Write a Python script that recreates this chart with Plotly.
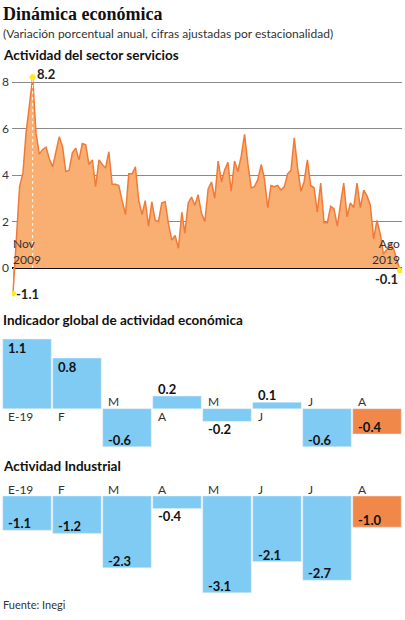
import plotly.graph_objects as go
import pandas as pd

# ---------------- data ----------------
servicios = [
    -1.1, 1.3, 3.5, 4.1, 5.8, 7.0, 8.2, 5.8, 4.9, 5.1,
    5.2, 4.7, 4.35, 5.0, 5.65, 5.2, 4.15, 4.2, 4.95, 5.15,
    4.65, 5.35, 5.3, 4.45, 4.65, 3.5, 4.65, 4.45, 4.3, 5.0,
    3.6, 3.6, 3.55, 2.9, 2.3, 4.05, 4.05, 4.35, 2.9, 2.3,
    2.9, 1.8, 2.85, 2.05, 2.0, 2.8, 2.85, 1.9, 1.2, 1.4,
    0.85, 2.4, 1.5, 2.8, 3.05, 2.7, 3.15, 2.35, 2.0, 3.4,
    3.7, 3.0, 4.6, 3.7, 4.2, 4.55, 3.3, 4.6, 4.15, 4.8,
    5.75, 4.5, 3.45, 3.5, 3.8, 4.45, 3.85, 2.6, 3.55, 3.5,
    3.55, 3.35, 3.5, 4.05, 4.2, 5.6, 4.3, 3.3, 3.7, 4.65,
    3.55, 3.45, 2.4, 3.65, 1.95, 1.95, 2.65, 2.55, 1.8, 2.8,
    3.65, 2.2, 2.8, 2.6, 3.65, 2.6, 3.35, 3.1, 2.7, 1.25,
    2.05, 1.45, 0.6, 0.8, 1.05, 0.85, 0.35, -0.1,
]
fechas = pd.date_range("2009-11-01", periods=len(servicios), freq="MS")
servicios_ticks = [0, 2, 4, 6, 8]

meses = ["E-19", "F", "M", "A", "M", "J", "J", "A"]
igae = [1.1, 0.8, -0.6, 0.2, -0.2, 0.1, -0.6, -0.4]
industrial = [-1.1, -1.2, -2.3, -0.4, -3.1, -2.1, -2.7, -1.0]

# ---------------- styles ----------------
W, H = 405, 620
FONT = "Lato"
DARK = "#222222"
BLUE = "#80CBF3"
ORANGE = "#F0884A"
FILL = "#F9AE72"
LINE = "#EF7B3A"
YELLOW = "#FFE81F"


def py(px):
    return 1 - px / H


def pxx(px):
    return px / W


fig = go.Figure()

# ---------------- area chart ----------------
fig.add_trace(go.Scatter(
    x=fechas, y=servicios, mode="lines", fill="tozeroy",
    fillcolor=FILL, line=dict(color=LINE, width=1.5),
    xaxis="x", yaxis="y", hoverinfo="skip"))

i_max = servicios.index(max(servicios))
fig.add_trace(go.Scatter(
    x=[fechas[i_max], fechas[i_max]], y=[0, servicios[i_max]],
    mode="lines", line=dict(color="white", width=1, dash="dot"),
    xaxis="x", yaxis="y", hoverinfo="skip"))

pts = [0, i_max, len(servicios) - 1]
fig.add_trace(go.Scatter(
    x=[fechas[i] for i in pts], y=[servicios[i] for i in pts],
    mode="markers", marker=dict(color=YELLOW, size=6),
    xaxis="x", yaxis="y", hoverinfo="skip"))

# ---------------- bar charts ----------------
def bar_colors(vals):
    return [BLUE] * (len(vals) - 1) + [ORANGE]


fig.add_trace(go.Bar(
    x=list(range(len(igae))), y=igae, marker_color=bar_colors(igae),
    width=0.97, xaxis="x2", yaxis="y2", hoverinfo="skip"))
fig.add_trace(go.Bar(
    x=list(range(len(industrial))), y=industrial,
    marker_color=bar_colors(industrial),
    width=0.97, xaxis="x3", yaxis="y3", hoverinfo="skip"))

annotations = []


def txt(text, x, y, size, bold=False, color=DARK, xanchor="left",
        yanchor="middle", xref="paper", yref="paper", xshift=0, yshift=0,
        align="left", family=FONT):
    annotations.append(dict(
        text=f"<b>{text}</b>" if bold else text, x=x, y=y, xref=xref,
        yref=yref, xanchor=xanchor, yanchor=yanchor, showarrow=False,
        xshift=xshift, yshift=yshift, align=align,
        font=dict(family=family, size=size, color=color)))


# titles
txt("Dinámica económica", pxx(1), py(14), 18, bold=True,
    family="Liberation Serif", color="#111111")
txt("(Variación porcentual anual, cifras ajustadas por estacionalidad)",
    pxx(1), py(33), 12, color="#333333")
txt("Actividad del sector servicios", pxx(1), py(55), 13.5, bold=True,
    color="#111111")
txt("Indicador global de actividad económica", pxx(1), py(320), 13.5,
    bold=True, color="#111111")
txt("Actividad Industrial", pxx(1), py(466), 13.5, bold=True,
    color="#111111")
txt("Fuente: Inegi", pxx(1), py(604), 11, color="#333333")

# area-chart labels
last = len(servicios) - 1
txt(f"{servicios[i_max]:.1f}", fechas[i_max], servicios[i_max], 13, bold=True,
    xref="x", yref="y", xshift=2, yshift=3)
txt(f"{servicios[0]:.1f}", fechas[0], servicios[0], 13, bold=True,
    xref="x", yref="y", xshift=1)
txt(f"{servicios[last]:.1f}", fechas[last], servicios[last], 13, bold=True,
    xref="x", yref="y", xanchor="right", xshift=0, yshift=-9)
txt("Nov<br>2009", fechas[0], 0, 12, xref="x", yref="y",
    yanchor="bottom", xshift=-2, yshift=-1, color="#333333")
txt("Ago<br>2019", fechas[last], 0, 12, xref="x", yref="y",
    xanchor="right", yanchor="bottom", xshift=2, yshift=-1,
    align="right", color="#333333")

# bar-chart labels
PPU = {"x2": 63.3, "x3": 31.2}   # px per unit on each bar axis


def bar_labels(vals, xref, yref):
    ppu = PPU[xref]
    for i, v in enumerate(vals):
        inside = abs(v) * ppu >= 20
        if v >= 0:
            ys = -9 if inside else 7
            ms = -8
        else:
            ys = 7 if inside else -8
            ms = 7
        txt(f"{v:.1f}", i - 0.5, v, 13, bold=True, xref=xref, yref=yref,
            xshift=4, yshift=ys, color="#111111")
        txt(meses[i], i - 0.5, 0, 12, xref=xref, yref=yref,
            xshift=4, yshift=ms, color="#333333")


bar_labels(igae, "x2", "y2")
bar_labels(industrial, "x3", "y3")

# ---------------- layout ----------------
fig.update_layout(
    width=W, height=H, autosize=False,
    margin=dict(l=0, r=0, t=0, b=0),
    paper_bgcolor="white", plot_bgcolor="rgba(0,0,0,0)",
    showlegend=False, barmode="relative",
    font=dict(family=FONT, color=DARK),
    annotations=annotations,
    xaxis=dict(domain=[pxx(12), pxx(402)],
               range=["2009-10-23", "2019-08-19"],
               showgrid=False, showticklabels=False, zeroline=False,
               fixedrange=True),
    yaxis=dict(domain=[py(300), py(70)], range=[-1.376, 8.516],
               tickvals=servicios_ticks, showgrid=True,
               gridcolor="#8a8a8a", gridwidth=1,
               zeroline=True, zerolinecolor="#111111", zerolinewidth=1.5,
               tickfont=dict(size=12, color="#333333"), ticks="",
               ticklabelstandoff=2, fixedrange=True),
    xaxis2=dict(domain=[pxx(2), pxx(402)], range=[-0.5, 7.5],
                visible=False, fixedrange=True),
    yaxis2=dict(domain=[py(455), py(330)],
                range=[-(455 - 408.7) / 63.3, (408.7 - 330) / 63.3],
                visible=False, fixedrange=True),
    xaxis3=dict(domain=[pxx(2), pxx(402)], range=[-0.5, 7.5],
                visible=False, fixedrange=True),
    yaxis3=dict(domain=[py(600), py(480)],
                range=[-(600 - 496) / 31.2, (496 - 480) / 31.2],
                visible=False, fixedrange=True),
)

fig.write_html(
    "out.html",
    config={"staticPlot": True},
    post_script="document.body.style.margin='0';"
                "document.body.style.overflow='hidden';",
)
